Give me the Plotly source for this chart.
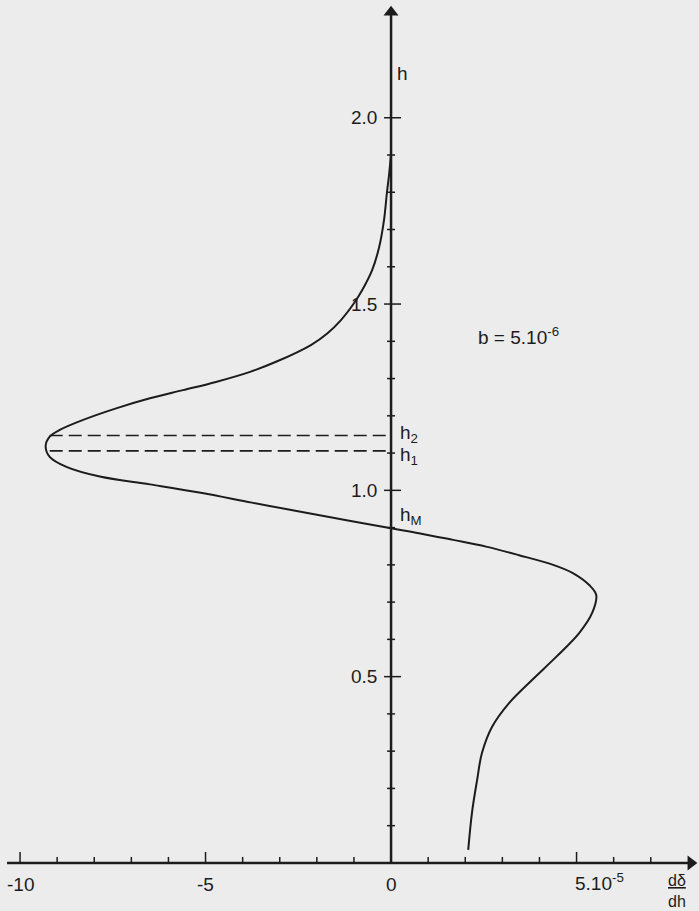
import plotly.graph_objects as go

# curve: h (vertical) against d(delta)/dh in units of 1e-5
curve_h = [0.035, 0.134, 0.223, 0.295, 0.365, 0.429, 0.491, 0.553, 0.617, 0.671,
           0.719, 0.746, 0.778, 0.80, 0.826, 0.849, 0.867, 0.885, 0.898,
           0.92, 0.942, 0.967, 0.993, 1.016, 1.037, 1.063, 1.09, 1.119,
           1.144, 1.162, 1.189, 1.22, 1.247, 1.269, 1.291, 1.318, 1.345,
           1.39, 1.421, 1.457, 1.502, 1.537, 1.591, 1.653, 1.725,
           1.80, 1.85, 1.905]
curve_x = [2.08, 2.18, 2.32, 2.45, 2.72, 3.18, 3.80, 4.45, 5.07, 5.42,
           5.53, 5.34, 4.90, 4.37, 3.45, 2.56, 1.67, 0.75, 0.0,
           -1.2, -2.4, -3.75, -5.09, -6.5, -7.85, -8.75, -9.2, -9.31,
           -9.2, -8.93, -8.30, -7.41, -6.50, -5.61, -4.72, -3.80, -3.10,
           -2.16, -1.72, -1.35, -1.0, -0.78, -0.51, -0.32, -0.19,
           -0.11, -0.05, 0.0]

h1 = 1.106
h2 = 1.147
hM = 0.898
h1_start = -9.2
h2_start = -9.2

x_ticks = list(range(-10, 8))
x_major = [-10, -5, 5]
y_ticks = [round(0.1 * i, 1) for i in range(1, 21)]
y_major = [0.5, 1.0, 1.5, 2.0]
y_labels = {0.5: "0.5", 1.0: "1.0", 1.5: "1.5", 2.0: "2.0"}
x_labels = {-10: "-10", -5: "-5", 0: "0"}

x_min, x_max = -10.35, 8.08
y_top = 2.283

ink = "#1c1c1c"
paper = "#ececec"

fig = go.Figure()

# axes with arrow heads
fig.add_trace(go.Scatter(x=[x_min, x_max], y=[0, 0], mode="lines",
                         line=dict(color=ink, width=2.5), hoverinfo="skip"))
fig.add_trace(go.Scatter(x=[0, 0], y=[0, y_top], mode="lines",
                         line=dict(color=ink, width=2.5), hoverinfo="skip"))
fig.add_trace(go.Scatter(x=[x_max], y=[0], mode="markers",
                         marker=dict(symbol="triangle-right", size=13, color=ink),
                         hoverinfo="skip"))
fig.add_trace(go.Scatter(x=[0], y=[y_top], mode="markers",
                         marker=dict(symbol="triangle-up", size=13, color=ink),
                         hoverinfo="skip"))

# dashed levels h1, h2
for lev, x0 in [(h1, h1_start), (h2, h2_start)]:
    fig.add_trace(go.Scatter(x=[x0, 0], y=[lev, lev], mode="lines",
                             line=dict(color=ink, width=1.6, dash="13px,6px"),
                             hoverinfo="skip"))

# the curve
fig.add_trace(go.Scatter(x=curve_x, y=curve_h, mode="lines",
                         line=dict(color=ink, width=2, shape="spline", smoothing=1.0)))

# ticks sit on the crossing axes
shapes = []
for v in x_ticks:
    if v == 0:
        continue
    L = 11 if v in x_major else 6
    shapes.append(dict(type="line", xref="x", yref="y", ysizemode="pixel", yanchor=0,
                       x0=v, x1=v, y0=0, y1=L, line=dict(color=ink, width=1.5)))
for v in y_ticks:
    a, b = (-7, 10) if v in y_major else (-4, 4)
    shapes.append(dict(type="line", xref="x", yref="y", xsizemode="pixel", xanchor=0,
                       x0=a, x1=b, y0=v, y1=v, line=dict(color=ink, width=1.5)))
fig.update_layout(shapes=shapes)

tf = dict(family="Liberation Sans, Arial, sans-serif", size=19, color=ink)
for v, t in y_labels.items():
    fig.add_annotation(x=0, y=v, text=t, showarrow=False, xanchor="right",
                       yanchor="middle", xshift=-12, font=tf)
for v, t in x_labels.items():
    fig.add_annotation(x=v, y=0, text=t, showarrow=False, xanchor="center",
                       yanchor="top", yshift=-9, font=tf)
fig.add_annotation(x=4.9, y=0, text="5.10<sup>-5</sup>", showarrow=False,
                   xanchor="left", yanchor="top", yshift=-5, font=tf)
fig.add_annotation(x=7.7, y=0, text="<u>dδ</u><br>dh", showarrow=False,
                   xanchor="center", yanchor="top", yshift=-7,
                   font=dict(family="Liberation Sans, Arial, sans-serif", size=16, color=ink))
fig.add_annotation(x=0, y=2.12, text="h", showarrow=False, xanchor="left",
                   xshift=4, font=tf)
fig.add_annotation(x=0, y=h2, text="h<sub>2</sub>", showarrow=False, xanchor="left",
                   yanchor="middle", xshift=7, yshift=2, font=tf)
fig.add_annotation(x=0, y=h1, text="h<sub>1</sub>", showarrow=False, xanchor="left",
                   yanchor="middle", xshift=7, yshift=-5, font=tf)
fig.add_annotation(x=0, y=hM, text="h<sub>M</sub>", showarrow=False, xanchor="left",
                   yanchor="bottom", xshift=7, yshift=-2, font=tf)
fig.add_annotation(x=2.3, y=1.415, text="b = 5.10<sup>-6</sup>", showarrow=False,
                   xanchor="left", yanchor="middle", font=tf)

fig.update_layout(width=699, height=911, autosize=False,
                  margin=dict(l=0, r=0, t=0, b=0),
                  paper_bgcolor=paper, plot_bgcolor=paper,
                  showlegend=False,
                  xaxis=dict(range=[-10.54, 8.30], visible=False, fixedrange=True),
                  yaxis=dict(range=[-0.129, 2.316], visible=False, fixedrange=True))

fig.write_html("out.html", config={"displayModeBar": False},
               post_script="document.body.style.margin='0';"
                           "document.body.style.overflow='hidden';"
                           "document.body.style.background='#ececec';")
